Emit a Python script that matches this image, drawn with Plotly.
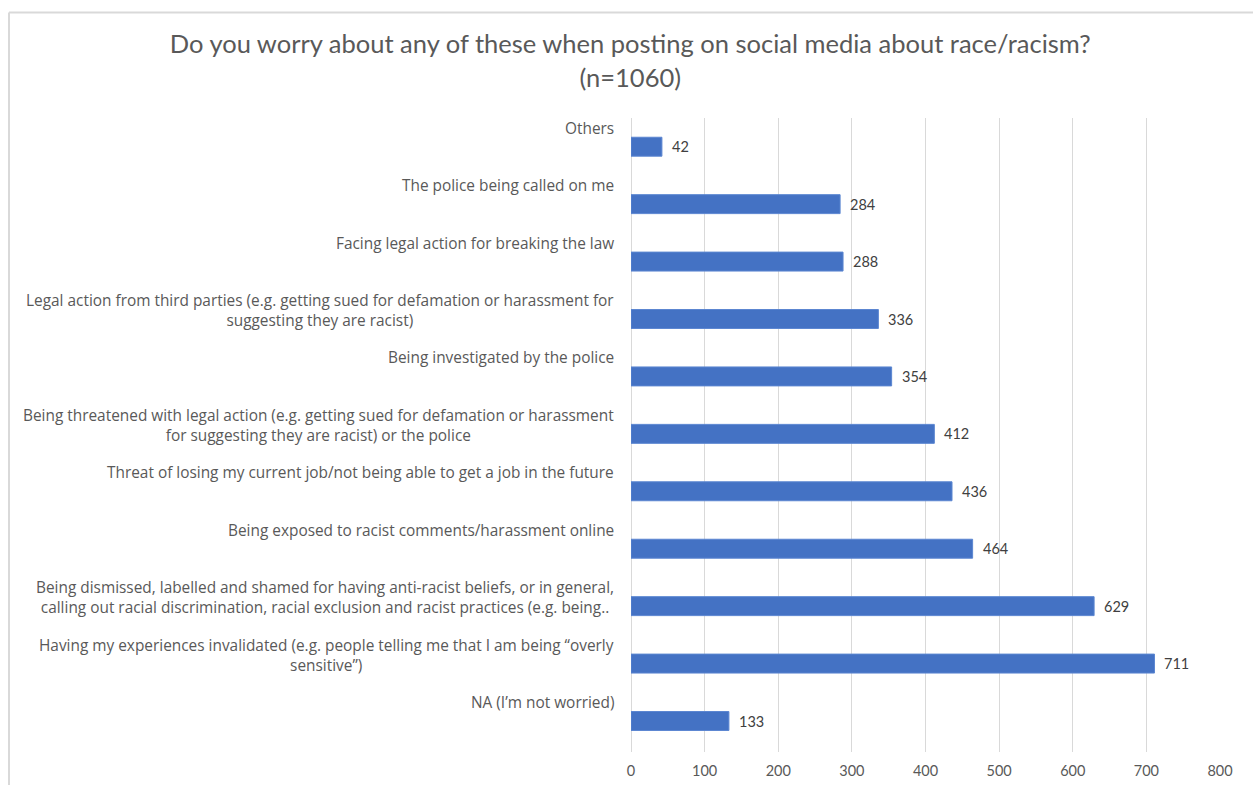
import plotly.graph_objects as go

# Survey answers, listed top to bottom as drawn
categories = [
    "Others",
    "The police being called on me",
    "Facing legal action for breaking the law",
    "Legal action from third parties (e.g. getting sued for defamation or harassment for<br>suggesting they are racist)",
    "Being investigated by the police",
    "Being threatened with legal action (e.g. getting sued for defamation or harassment<br>for suggesting they are racist) or the police",
    "Threat of losing my current job/not being able to get a job in the future",
    "Being exposed to racist comments/harassment online",
    "Being dismissed, labelled and shamed for having anti-racist beliefs, or in general,<br>calling out racial discrimination, racial exclusion and racist practices (e.g. being..",
    "Having my experiences invalidated (e.g. people telling me that I am being “overly<br>sensitive”)",
    "NA (I’m not worried)",
]
counts = [42, 284, 288, 336, 354, 412, 436, 464, 629, 711, 133]
x_ticks = [0, 100, 200, 300, 400, 500, 600, 700, 800]

TEXT = "#595959"
GRID = "#d9d9d9"
FONT = "Lato, 'Open Sans', sans-serif"
LABEL_FONT = "'Open Sans', Lato, sans-serif"

# plot-area geometry in pixels (used for the outer frame lines)
W, H = 1253, 785
ML, MR, MT, MB = 631, 33, 118, 33
pw, ph = W - ML - MR, H - MT - MB


def px_x(p):
    return (p - ML) / pw


def px_y(p):
    return (H - MB - p) / ph


fig = go.Figure(
    go.Bar(
        y=categories,
        x=counts,
        orientation="h",
        marker=dict(color="#4472C4", line=dict(color="#5b86d1", width=1)),
        hoverinfo="x+y",
    )
)

annotations = []
# category labels sit above each bar, right-aligned to the axis
for cat in categories:
    annotations.append(dict(
        x=0, y=cat, xref="x", yref="y",
        text=cat, showarrow=False,
        xanchor="right", yanchor="top", align="center",
        xshift=-15, yshift=31,
        font=dict(family=LABEL_FONT, size=15.4, color=TEXT),
    ))
# value labels at the end of each bar
for cat, v in zip(categories, counts):
    annotations.append(dict(
        x=v, y=cat, xref="x", yref="y",
        text=str(v), showarrow=False,
        xanchor="left", yanchor="middle",
        xshift=8,
        font=dict(family=FONT, size=14.5, color="#404040"),
    ))

fig.update_layout(
    width=W, height=H,
    margin=dict(l=ML, r=MR, t=MT, b=MB, autoexpand=False),
    paper_bgcolor="white", plot_bgcolor="white",
    bargap=0.67,
    showlegend=False,
    title=dict(
        text="Do you worry about any of these when posting on social media about race/racism?<br>(n=1060)",
        x=0.503, xanchor="center", y=0.932, yanchor="top",
        font=dict(family=FONT, size=25.5, color=TEXT),
    ),
    xaxis=dict(
        range=[0, 800], tickvals=x_ticks,
        showgrid=True, gridcolor=GRID, gridwidth=1,
        zeroline=True, zerolinecolor=GRID, zerolinewidth=1,
        showline=False, ticks="",
        automargin=False,
        ticklabelstandoff=8,
        tickfont=dict(family=FONT, size=14.5, color=TEXT),
    ),
    yaxis=dict(
        categoryorder="array", categoryarray=categories,
        autorange="reversed", automargin=False,
        showticklabels=False, showgrid=False, zeroline=False, ticks="",
    ),
    annotations=annotations,
    shapes=[
        dict(type="line", xref="paper", yref="paper",
             x0=px_x(9), x1=px_x(9), y0=px_y(H + 5), y1=px_y(12.5),
             line=dict(color=GRID, width=2)),
        dict(type="line", xref="paper", yref="paper",
             x0=px_x(9), x1=px_x(W + 5), y0=px_y(12.5), y1=px_y(12.5),
             line=dict(color=GRID, width=2)),
    ],
)

fig.write_html("out.html")
